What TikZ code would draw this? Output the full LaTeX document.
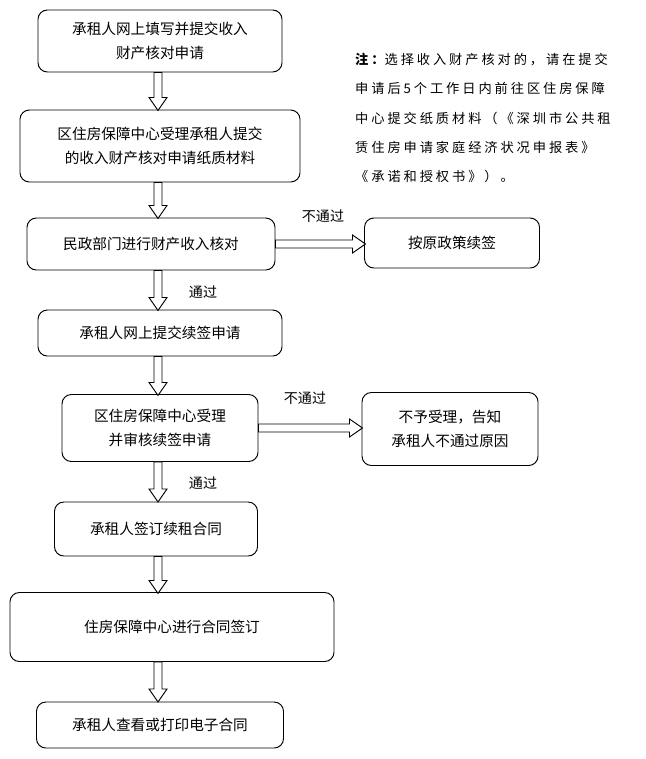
\documentclass[tikz,border=0pt]{standalone}
\usepackage{fontspec}
\setmainfont{Noto Sans CJK SC}
\newfontfamily\notefont[LetterSpace=22]{Noto Sans CJK SC}
\usetikzlibrary{positioning,calc}
\tikzset{
  box/.style={draw,thick,rounded corners=8pt,align=center,font=\fontsize{12.5}{21}\selectfont},
  hollow/.style={draw,thick,fill=white,line join=miter},
  lbl/.style={font=\fontsize{12}{14}\selectfont}
}
% hohler Pfeil nach unten: Startknoten, Laenge in px
\newcommand{\vpfeil}[2]{%
  \draw[hollow] (#1.south -| col) ++(-4,0) -- ++(0,#2-13) -- ++(-5,0) -- ++(9,13) -- ++(9,-13)
    -- ++(-5,0) -- ++(0,13-#2) -- cycle;}
% hohler Pfeil nach rechts
\newcommand{\hpfeil}[2]{%
  \draw[hollow] (#1.east) ++(0,-4) -- ++(#2-13,0) -- ++(0,-5) -- ++(13,9) -- ++(-13,9)
    -- ++(0,-5) -- ++(13-#2,0) -- cycle;}
\begin{document}
\begin{tikzpicture}[x=0.03cm,y=-0.03cm]
\useasboundingbox (0,0) rectangle (645,759);
\coordinate (col) at (158,0);
% Hauptkette
\node[box,minimum width=7.32cm,minimum height=1.86cm] (antrag) at (160,41) {承租人网上填写并提交收入\\财产核对申请};
\node[box,minimum width=8.4cm,minimum height=2.16cm] (annahme) at (160,146) {区住房保障中心受理承租人提交\\的收入财产核对申请纸质材料};
\node[box,minimum width=7.44cm,minimum height=1.56cm] (pruefung) at (151,244) {民政部门进行财产收入核对};
\node[box,minimum width=5.25cm,minimum height=1.5cm] (alt) at (452,243) {按原政策续签};
\node[box,minimum width=7.32cm,minimum height=1.38cm] (verl) at (160,333) {承租人网上提交续签申请};
\node[box,minimum width=5.88cm,minimum height=2.01cm] (zentrum) at (160,428) {区住房保障中心受理\\并审核续签申请};
\node[box,minimum width=5.28cm,minimum height=2.19cm] (absage) at (450,429) {不予受理，告知\\承租人不通过原因};
\node[box,minimum width=6.09cm,minimum height=1.62cm] (unterschr) at (156,529) {承租人签订续租合同};
\node[box,minimum width=9.72cm,minimum height=2.07cm] (vertrag) at (172,627) {住房保障中心进行合同签订};
\node[box,minimum width=7.41cm,minimum height=1.38cm] (druck) at (160,725) {承租人查看或打印电子合同};
% Pfeile
\vpfeil{antrag}{38}
\vpfeil{annahme}{36}
\vpfeil{pruefung}{40}
\vpfeil{verl}{39}
\vpfeil{zentrum}{40}
\vpfeil{unterschr}{37}
\vpfeil{vertrag}{40}
\hpfeil{pruefung}{90}
\hpfeil{zentrum}{104}
\node[lbl] (n1) at (323,216) {不通过};
\node[lbl] (n2) at (305,398) {不通过};
\node[lbl] (p1) at (203,292) {通过};
\node[lbl] (p2) at (203,483) {通过};
% Hinweis
\node[anchor=north west,align=left,inner sep=0pt,font=\notefont\fontsize{11.3}{25}\selectfont] (hinweis) at (355,53)
  {{\bfseries 注：}选择收入财产核对的，请在提交\\申请后5个工作日内前往区住房保障\\中心提交纸质材料（《深圳市公共租\\赁住房申请家庭经济状况申报表》\\《承诺和授权书》）。};
\end{tikzpicture}
\end{document}
